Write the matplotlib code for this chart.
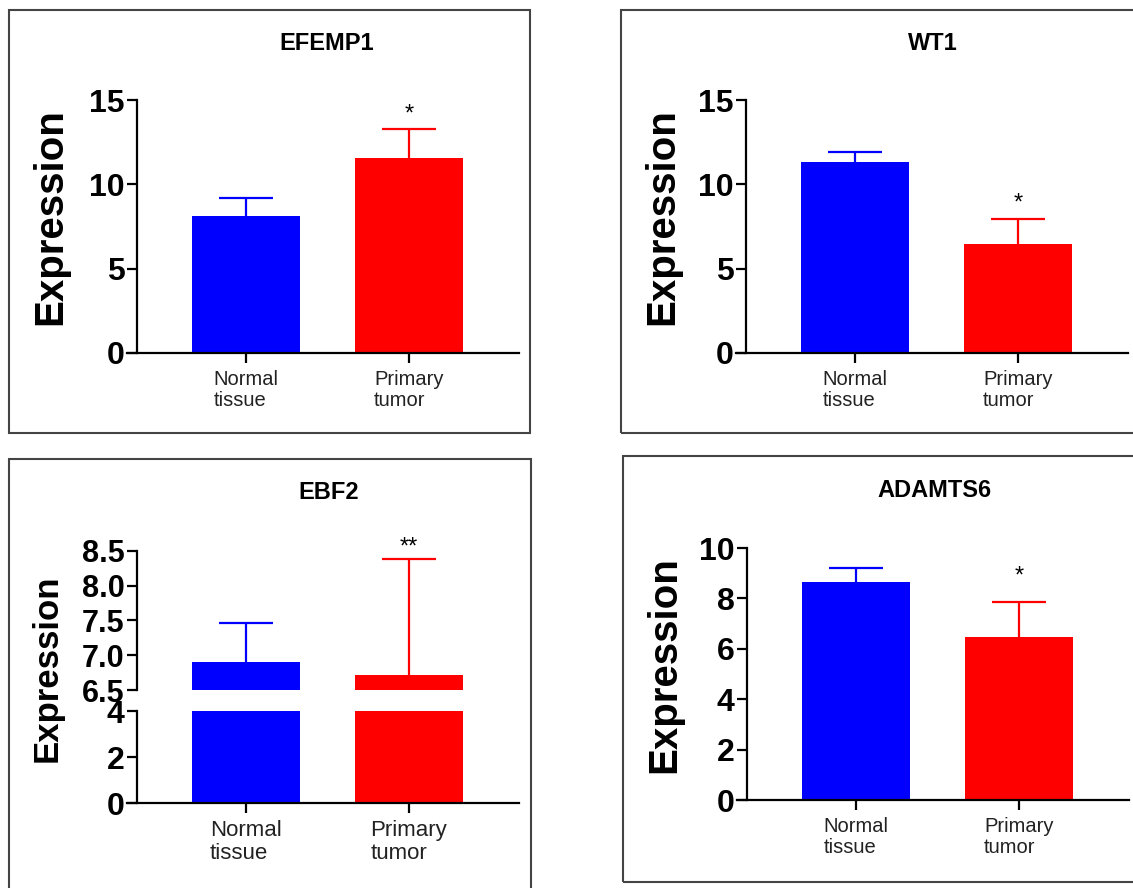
import numpy as np
import matplotlib
matplotlib.use("Agg")
import matplotlib.pyplot as plt
from matplotlib.patches import Rectangle

plt.rcParams['font.family'] = ['Liberation Sans', 'DejaVu Sans']

# data
groups = ['Normal\ntissue', 'Primary\ntumor']
colors = ['#0000FF', '#FF0000']

efemp1_mean = [8.12, 11.54]
efemp1_sd = [1.08, 1.73]
wt1_mean = [11.30, 6.45]
wt1_sd = [0.62, 1.49]
ebf2_mean = [6.90, 6.71]
ebf2_sd = [0.57, 1.68]
adamts6_mean = [8.65, 6.46]
adamts6_sd = [0.54, 1.38]

sig_marks = {'EFEMP1': '*', 'WT1': '*', 'EBF2': '**', 'ADAMTS6': '*'}

W, H = 1133, 888
fig = plt.figure(figsize=(W / 100, H / 100), dpi=100)

XLIM = (-0.73, 1.675)
SPINE_X = -0.669
PX_PER_UNIT = 163
AX_W = (XLIM[1] - XLIM[0]) * PX_PER_UNIT
BAR_W = 0.66


def add_px_axes(left, top, bottom):
    return fig.add_axes([left / W, 1 - bottom / H, AX_W / W, (bottom - top) / H])


def style_axes(ax, ylim, yticks, fmt='%d', show_x=True, ytick_size=23, xtick_size=14.5):
    # set spine position first: it resets the tick objects
    for s in ['top', 'right']:
        ax.spines[s].set_visible(False)
    ax.spines['left'].set_position(('data', SPINE_X))
    ax.spines['left'].set_linewidth(1.6)
    ax.spines['bottom'].set_linewidth(1.6)
    ax.set_xlim(*XLIM)
    ax.set_ylim(*ylim)
    ax.set_yticks(yticks)
    ax.set_yticklabels([fmt % t for t in yticks], fontsize=ytick_size, fontweight='bold')
    ax.tick_params(axis='y', length=7, width=1.6, pad=2)
    ax.patch.set_alpha(0)
    if show_x:
        ax.set_xticks([0, 1])
        ax.set_xticklabels(groups, fontsize=xtick_size, linespacing=1.15, color='#222222')
        for t in ax.get_xticklabels():
            t.set_multialignment('left')
        ax.tick_params(axis='x', length=7, width=1.6, pad=5)
    else:
        ax.spines['bottom'].set_visible(False)
        ax.set_xticks([])


def draw_bars(ax, means, sds, with_err=True):
    x = np.arange(len(means))
    ax.bar(x, means, width=BAR_W, color=colors, zorder=2)
    if with_err:
        tops = np.array(means) + np.array(sds)
        ax.vlines(x, means, tops, colors=colors, linewidth=1.6, zorder=3)
        ax.hlines(tops, x - BAR_W / 4, x + BAR_W / 4, colors=colors,
                  linewidth=1.6, zorder=3)


def add_star(ax, means, sds, mark, offset):
    ax.annotate(mark, xy=(1, means[1] + sds[1]), xytext=(0, offset),
                textcoords='offset points', ha='center', va='baseline',
                fontsize=17, annotation_clip=False)


def add_box(left, top, right, bottom):
    fig.patches.append(Rectangle((left / W, 1 - bottom / H), (right - left) / W,
                                 (bottom - top) / H, transform=fig.transFigure,
                                 fill=False, edgecolor='#444444', linewidth=1.5))


def px_text(x, y, s, **kw):
    fig.text(x / W, 1 - y / H, s, ha='center', va='center', **kw)


# panel frames
add_box(9, 10, 530, 433)
add_box(621, 10, 1145, 433)
add_box(9, 459, 531, 900)
add_box(623, 456, 1145, 882)

# EFEMP1
ax1 = add_px_axes(127, 100, 353)
draw_bars(ax1, efemp1_mean, efemp1_sd)
style_axes(ax1, (0, 15), [0, 5, 10, 15])
add_star(ax1, efemp1_mean, efemp1_sd, sig_marks['EFEMP1'], 6)
px_text(327, 43, 'EFEMP1', fontsize=17, fontweight='bold')
px_text(50, 217, 'Expression', fontsize=29, fontweight='bold', rotation=90)

# WT1
ax2 = add_px_axes(736, 100, 353)
draw_bars(ax2, wt1_mean, wt1_sd)
style_axes(ax2, (0, 15), [0, 5, 10, 15])
add_star(ax2, wt1_mean, wt1_sd, sig_marks['WT1'], 7)
px_text(933, 43, 'WT1', fontsize=17, fontweight='bold')
px_text(662, 217, 'Expression', fontsize=29, fontweight='bold', rotation=90)

# EBF2 (broken axis)
ax3_lo = add_px_axes(127, 711, 803)
draw_bars(ax3_lo, ebf2_mean, ebf2_sd, with_err=False)
style_axes(ax3_lo, (0, 4), [0, 2, 4], xtick_size=16)
ax3_hi = add_px_axes(127, 551, 690)
draw_bars(ax3_hi, ebf2_mean, ebf2_sd)
style_axes(ax3_hi, (6.5, 8.5), [6.5, 7.0, 7.5, 8.0, 8.5], fmt='%.1f',
           show_x=False, ytick_size=22)
add_star(ax3_hi, ebf2_mean, ebf2_sd, sig_marks['EBF2'], 4)
px_text(329, 492, 'EBF2', fontsize=17, fontweight='bold')
px_text(47, 668, 'Expression', fontsize=25, fontweight='bold', rotation=90)

# ADAMTS6
ax4 = add_px_axes(737, 548, 800)
draw_bars(ax4, adamts6_mean, adamts6_sd)
style_axes(ax4, (0, 10), [0, 2, 4, 6, 8, 10])
add_star(ax4, adamts6_mean, adamts6_sd, sig_marks['ADAMTS6'], 14)
px_text(934, 490, 'ADAMTS6', fontsize=17, fontweight='bold')
px_text(664, 665, 'Expression', fontsize=29, fontweight='bold', rotation=90)

fig.savefig('out.png', dpi=100)
